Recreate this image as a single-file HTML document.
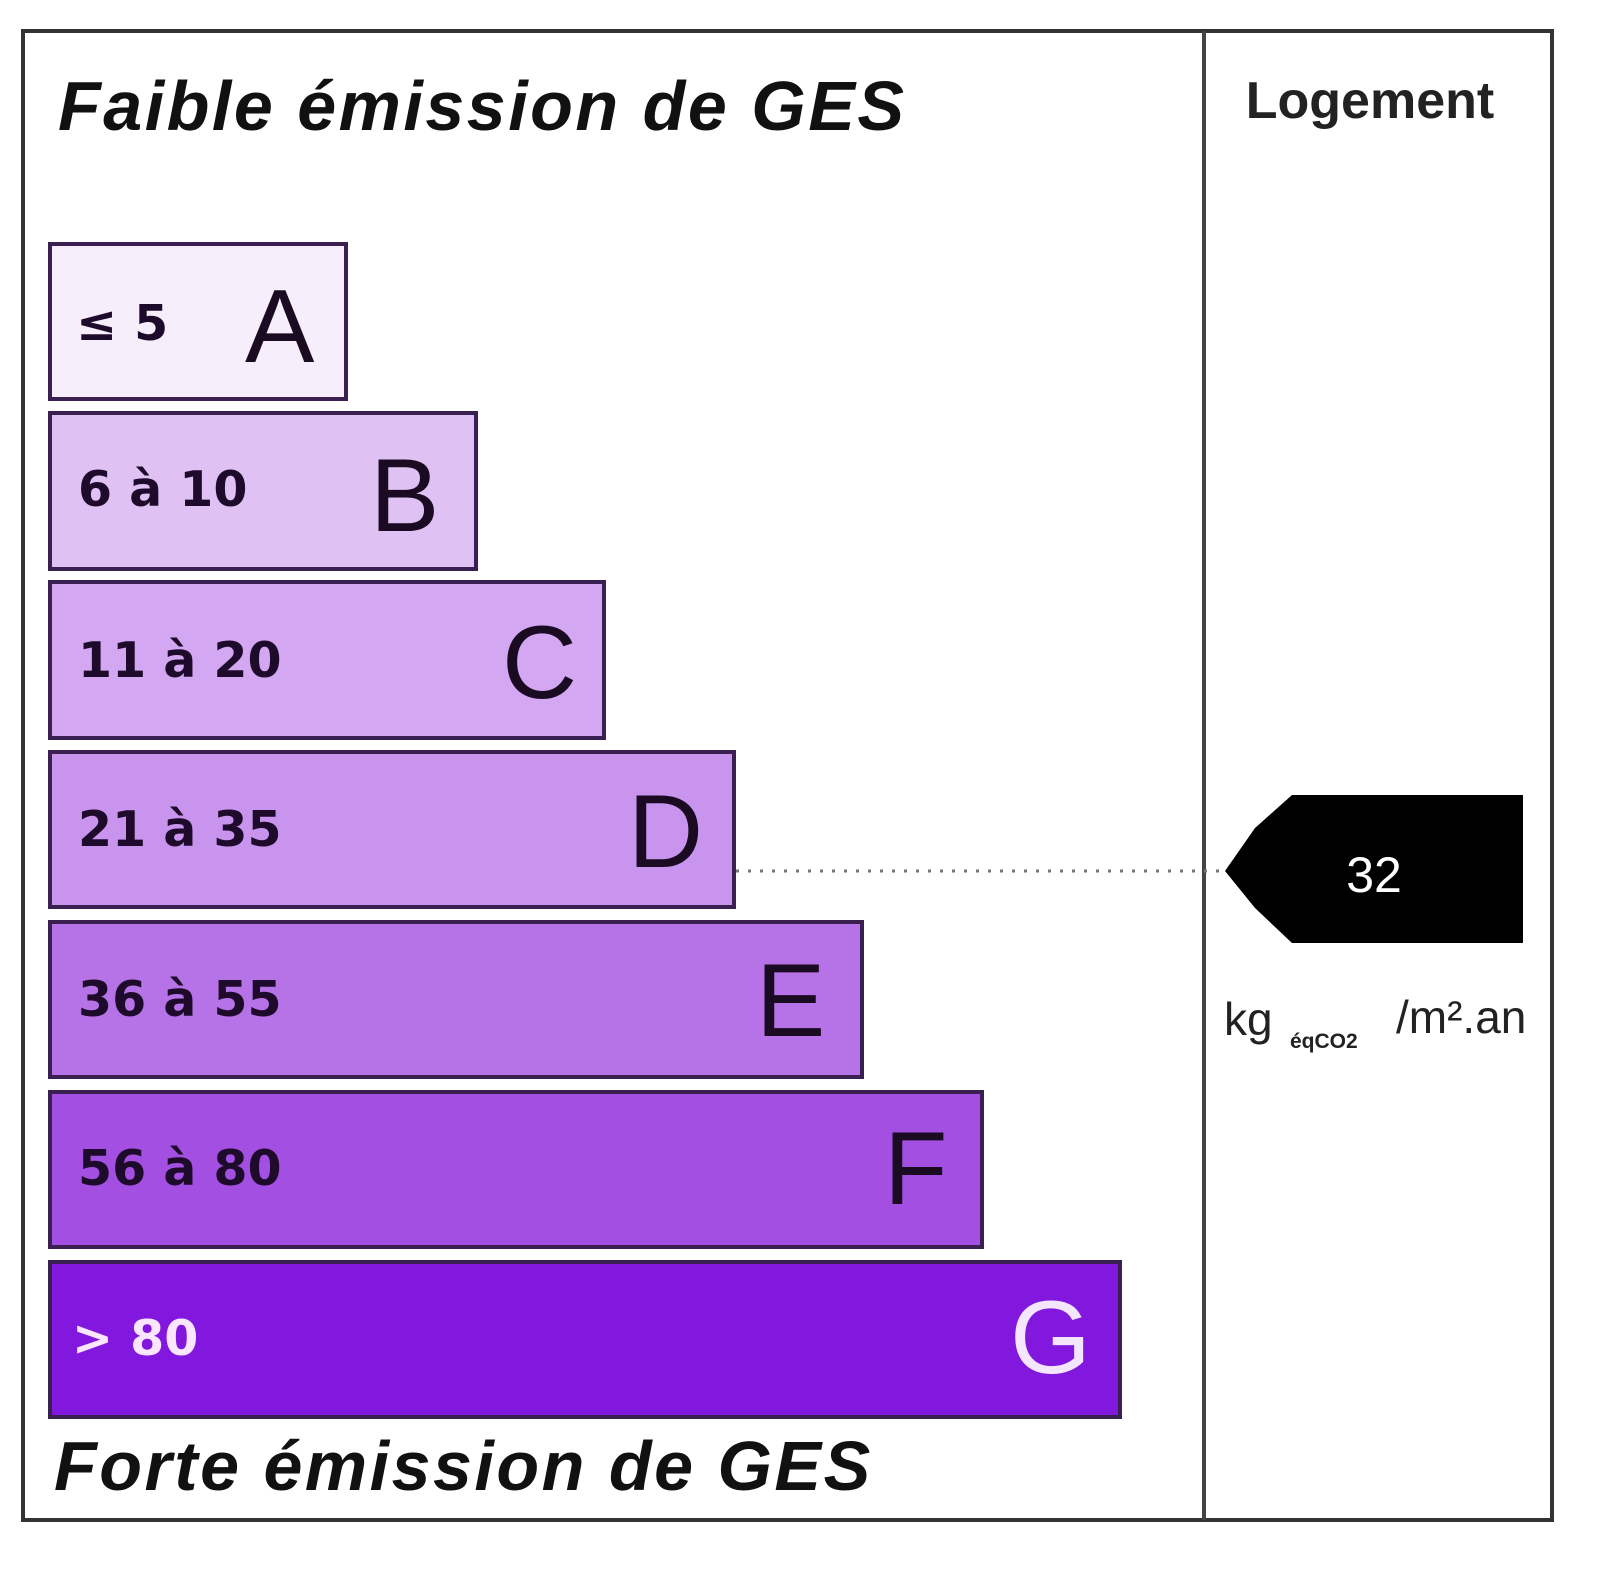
<!DOCTYPE html>
<html><head><meta charset="utf-8"><style>
html,body{margin:0;padding:0;background:#fff;}
svg{display:block;}
.r{font-family:"DejaVu Sans","Liberation Sans",sans-serif;font-weight:bold;font-size:49px;fill:#1e0a2a;}
.l{font-family:"Liberation Sans",sans-serif;font-size:104px;fill:#1a0a22;}
.t{font-family:"Liberation Sans",sans-serif;font-weight:bold;font-style:italic;font-size:70px;fill:#111;letter-spacing:2.5px;}
</style></head><body>
<svg width="1600" height="1589" viewBox="0 0 1600 1589" xmlns="http://www.w3.org/2000/svg">
<rect x="0" y="0" width="1600" height="1589" fill="#fff"/>
<rect x="23" y="31" width="1529" height="1489" fill="none" stroke="#333" stroke-width="4"/>
<line x1="1204" y1="31" x2="1204" y2="1520" stroke="#444" stroke-width="4"/>
<text class="t" x="58" y="130">Faible émission de GES</text>
<text class="t" x="54" y="1490">Forte émission de GES</text>
<text x="1370" y="118" text-anchor="middle" font-family="Liberation Sans,sans-serif" font-weight="bold" font-size="52" fill="#222">Logement</text>
<g stroke="#3a2050" stroke-width="4">
<rect x="50" y="244" width="296" height="155" fill="#f6eefb"/>
<rect x="50" y="413" width="426" height="156" fill="#dfc2f3"/>
<rect x="50" y="582" width="554" height="156" fill="#d3a7f1"/>
<rect x="50" y="752" width="684" height="155" fill="#c894ee"/>
<rect x="50" y="922" width="812" height="155" fill="#b673e8"/>
<rect x="50" y="1092" width="932" height="155" fill="#a24fe2"/>
<rect x="50" y="1262" width="1070" height="155" fill="#8217de"/>
</g>
<text class="r" x="76" y="340">≤ 5</text>
<text class="r" x="78" y="506">6 à 10</text>
<text class="r" x="78" y="677">11 à 20</text>
<text class="r" x="78" y="846">21 à 35</text>
<text class="r" x="78" y="1016">36 à 55</text>
<text class="r" x="78" y="1185">56 à 80</text>
<text class="r" x="72" y="1355" style="fill:#fbe6ff">&gt; 80</text>
<text class="l" x="245" y="362">A</text>
<text class="l" x="370" y="531">B</text>
<text class="l" x="502" y="698">C</text>
<text class="l" x="628" y="867">D</text>
<text class="l" x="756" y="1036">E</text>
<text class="l" x="884" y="1204">F</text>
<text class="l" x="1010" y="1373" style="fill:#f4e6ff">G</text>
<line x1="736" y1="871" x2="1225" y2="871" stroke="#777" stroke-width="3" stroke-dasharray="3,9"/>
<polygon points="1225,871 1255,828 1292,795 1523,795 1523,943 1292,943 1255,908" fill="#000"/>
<text x="1374" y="892" text-anchor="middle" font-family="Liberation Sans,sans-serif" font-size="50" fill="#fff">32</text>
<text x="1224" y="1035" font-family="Liberation Sans,sans-serif" font-size="46" fill="#222">kg</text>
<text x="1290" y="1048" font-family="Liberation Sans,sans-serif" font-weight="bold" font-size="21" fill="#222">éqCO2</text>
<text x="1396" y="1033" font-family="Liberation Sans,sans-serif" font-size="46" fill="#222">/m².an</text>
</svg>
</body></html>
